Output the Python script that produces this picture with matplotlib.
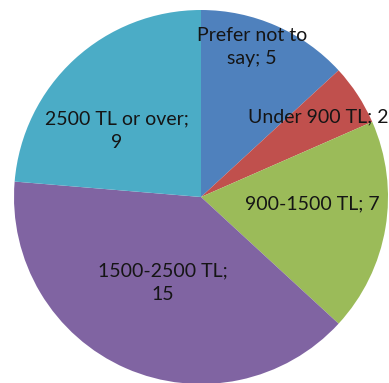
import matplotlib
matplotlib.use('Agg')
import matplotlib.pyplot as plt

# income groups, counted clockwise from 12 o'clock
labels = ['Prefer not to\nsay', 'Under 900 TL', '900-1500 TL', '1500-2500 TL;\n', '2500 TL or over;\n']
counts = [5, 2, 7, 15, 9]
colors = ['#4F81BD', '#C0504D', '#9BBB59', '#8064A2', '#4BACC6']

# where each data label sits, in units of the pie radius
label_pos = [(0.273, 0.802), (0.626, 0.428), (0.594, -0.037), (-0.203, -0.460), (-0.449, 0.353)]

W, H = 389, 383
fig = plt.figure(figsize=(W / 100, H / 100), dpi=100)
ax = fig.add_axes([0, 0, 1, 1])

cx, cy, r = 201, 197, 187  # pixel centre and radius of the pie
ax.pie(counts, colors=colors, startangle=90, counterclock=False, radius=1,
       wedgeprops=dict(linewidth=0.4, edgecolor='none', antialiased=True))

for lab, n, (x, y) in zip(labels, counts, label_pos):
    if lab.endswith('\n'):
        txt = f"{lab}{n}"
    else:
        txt = f"{lab}; {n}"
    ax.text(x, y, txt, ha='center', va='center', fontsize=14, family='Lato',
            color='#151515', linespacing=1.45)

ax.set_xlim(-cx / r, (W - cx) / r)
ax.set_ylim(-(H - cy) / r, cy / r)
ax.set_aspect('auto')
ax.axis('off')

fig.savefig('out.png', dpi=100)
